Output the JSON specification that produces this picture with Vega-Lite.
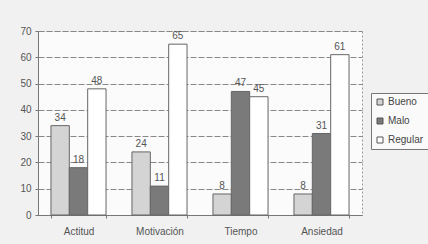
{
  "$schema": "https://vega.github.io/schema/vega-lite/v6.json",
  "width": 324,
  "height": 184,
  "autosize": "none",
  "padding": {"left": 38, "top": 31, "right": 66, "bottom": 29},
  "background": "#f1f1f1",
  "config": {
    "view": {"stroke": "#999", "strokeDash": [2, 2], "fill": "#fbfbfb"},
    "font": "Liberation Sans"
  },
  "data": {
    "values": [
      {"cat": "Actitud", "serie": "Bueno", "v": 34},
      {"cat": "Actitud", "serie": "Malo", "v": 18},
      {"cat": "Actitud", "serie": "Regular", "v": 48},
      {"cat": "Motivación", "serie": "Bueno", "v": 24},
      {"cat": "Motivación", "serie": "Malo", "v": 11},
      {"cat": "Motivación", "serie": "Regular", "v": 65},
      {"cat": "Tiempo", "serie": "Bueno", "v": 8},
      {"cat": "Tiempo", "serie": "Malo", "v": 47},
      {"cat": "Tiempo", "serie": "Regular", "v": 45},
      {"cat": "Ansiedad", "serie": "Bueno", "v": 8},
      {"cat": "Ansiedad", "serie": "Malo", "v": 31},
      {"cat": "Ansiedad", "serie": "Regular", "v": 61}
    ]
  },
  "encoding": {
    "x": {
      "field": "cat", "type": "nominal", "sort": null,
      "scale": {"paddingInner": 0.32, "paddingOuter": 0.16},
      "axis": {"title": null, "labelAngle": 0, "labelFontSize": 10, "labelColor": "#555", "labelPadding": 8,
               "tickBand": "extent", "tickColor": "#777", "tickSize": 3, "domainColor": "#777", "grid": false}
    },
    "xOffset": {"field": "serie", "type": "nominal", "sort": ["Bueno", "Malo", "Regular"]},
    "y": {
      "field": "v", "type": "quantitative",
      "scale": {"domain": [0, 70]},
      "axis": {"title": null, "values": [0, 10, 20, 30, 40, 50, 60, 70], "labelFontSize": 10, "labelColor": "#555",
               "tickColor": "#777", "tickSize": 3, "domainColor": "#777", "gridColor": "#888", "gridDash": [6, 2], "labelPadding": 4}
    }
  },
  "layer": [
    {
      "mark": {"type": "bar", "stroke": "#666", "strokeWidth": 1},
      "encoding": {
        "fill": {
          "field": "serie", "type": "nominal",
          "scale": {"domain": ["Bueno", "Malo", "Regular"], "range": ["#d4d4d4", "#7a7a7a", "#ffffff"]},
          "legend": {
            "title": null, "orient": "none", "legendX": 333, "legendY": 62,
            "strokeColor": "#777", "padding": 4, "fillColor": "#fafafa",
            "labelFontSize": 10, "labelColor": "#444", "labelOffset": 3, "symbolType": "square", "symbolSize": 36,
            "symbolStrokeColor": "#555", "symbolStrokeWidth": 1, "rowPadding": 9
          }
        }
      }
    },
    {
      "mark": {"type": "text", "dy": -8, "fontSize": 10, "color": "#555"},
      "encoding": {"text": {"field": "v", "type": "quantitative"}}
    }
  ]
}
